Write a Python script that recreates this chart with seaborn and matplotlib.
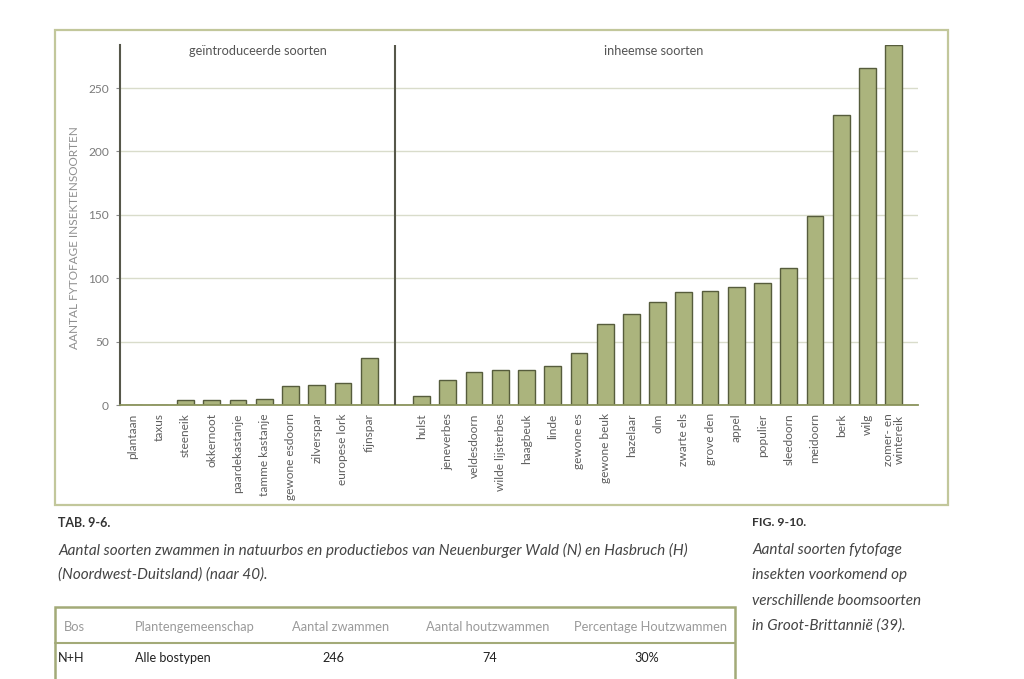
import matplotlib
matplotlib.use("Agg")
import matplotlib.pyplot as plt
import seaborn as sns
import pandas as pd
import numpy as np
from matplotlib.patches import Rectangle
from matplotlib.lines import Line2D

# ---------------- data ----------------
introduced = ["plantaan", "taxus", "steeneik", "okkernoot", "paardekastanje",
              "tamme kastanje", "gewone esdoorn", "zilverspar", "europese lork", "fijnspar"]
introduced_vals = [0, 0, 4, 4, 4, 5, 15, 16, 17, 37]

native = ["hulst", "jeneverbes", "veldesdoorn", "wilde lijsterbes", "haagbeuk", "linde",
          "gewone es", "gewone beuk", "hazelaar", "olm", "zwarte els", "grove den", "appel",
          "populier", "sleedoorn", "meidoorn", "berk", "wilg", "zomer- en\nwintereik"]
native_vals = [7, 20, 26, 28, 28, 31, 41, 64, 72, 81, 89, 90, 93, 96, 108, 149, 229, 266, 284]

yticks = [0, 50, 100, 150, 200, 250]
group_labels = ["geïntroduceerde soorten", "inheemse soorten"]
ylabel = "AANTAL FYTOFAGE INSEKTENSOORTEN"

tab_title = "TAB. 9-6."
tab_caption = ["Aantal soorten zwammen in natuurbos en productiebos van Neuenburger Wald (N) en Hasbruch (H)",
               "(Noordwest-Duitsland) (naar 40)."]
fig_title = "FIG. 9-10."
fig_caption = ["Aantal soorten fytofage", "insekten voorkomend op",
               "verschillende boomsoorten", "in Groot-Brittannië (39)."]
table_header = ["Bos", "Plantengemeenschap", "Aantal zwammen", "Aantal houtzwammen", "Percentage Houtzwammen"]
table_row = ["N+H", "Alle bostypen", "246", "74", "30%"]

# ---------------- style ----------------
sns.set_style("white")
plt.rcParams['font.family'] = ['Lato', 'DejaVu Sans']

GAP = " "
df = pd.DataFrame({"soort": introduced + native, "aantal": introduced_vals + native_vals})
order = introduced + [GAP] + native

W, H = 1024, 679
fig = plt.figure(figsize=(W / 100, H / 100), dpi=100)
fig.patch.set_facecolor("white")

def fx(x):
    return x / W

def fy(y):
    return 1 - y / H

ax = fig.add_axes([fx(120), fy(405), fx(918) - fx(120), fy(45) - fy(405)])

fill = "#abb47d"
edge = "#565c3c"
sns.barplot(data=df, x="soort", y="aantal", order=order, color=fill, saturation=1,
            edgecolor=edge, linewidth=1.0, width=0.64, errorbar=None, ax=ax)

ax.set_xlim(-0.42, 29.93)
ax.set_ylim(0, 284)
ax.set_xlabel("")
ax.set_ylabel("")

labels = introduced + [""] + native
ax.set_xticks(range(len(order)))
ax.set_xticklabels(labels, rotation=90, fontsize=8.6, color="#5e5e5e", linespacing=1.0)
ax.tick_params(axis="x", which="major", length=0, pad=6)
ax.set_xticks(np.arange(-0.5, len(order), 1), minor=True)
ax.tick_params(axis="x", which="minor", length=4, direction="inout", color="#7d8650", width=0.9)

ax.set_yticks(yticks)
ax.set_yticklabels([str(t) for t in yticks], fontsize=8.6, color="#7a7a7a")
ax.tick_params(axis="y", length=3, width=0.8, color="#8a8a8a", pad=5, left=True)

ax.set_axisbelow(True)
ax.yaxis.grid(True, color="#d9dccb", lw=1.0)
ax.xaxis.grid(False)

for s in ["top", "right"]:
    ax.spines[s].set_visible(False)
ax.spines["left"].set_color("#56574a")
ax.spines["left"].set_linewidth(1.5)
ax.spines["bottom"].set_color("#8a935c")
ax.spines["bottom"].set_linewidth(1.3)

ax.axvline(order.index(GAP), color="#56574a", lw=1.5, zorder=3)

# group labels
fig.text(fx(257.5), fy(51), group_labels[0], ha="center", va="center", fontsize=9.2, color="#555555")
fig.text(fx(654), fy(51), group_labels[1], ha="center", va="center", fontsize=9.2, color="#555555")

# y label
fig.text(fx(75), fy(238), ylabel, rotation=90, ha="center", va="center",
         fontsize=8.5, color="#8f8f8f")

# frame around figure
fig.add_artist(Rectangle((fx(55), fy(505)), fx(948) - fx(55), fy(30) - fy(505),
                         transform=fig.transFigure, fill=False, ec="#c2c79b", lw=1.6))

# captions
fig.text(fx(58), fy(523), tab_title, ha="left", va="center", fontsize=9,
         fontweight="bold", color="#333333")
for i, line in enumerate(tab_caption):
    fig.text(fx(58), fy(550 + 25 * i), line, ha="left", va="center", fontsize=11,
             style="italic", color="#444444")
fig.text(fx(752), fy(523), fig_title, ha="left", va="center", fontsize=8.8,
         fontweight="bold", color="#333333")
for i, line in enumerate(fig_caption):
    fig.text(fx(752), fy(550 + 25.3 * i), line, ha="left", va="center", fontsize=11,
             style="italic", color="#444444")

# table (partial)
fig.add_artist(Rectangle((fx(55), fy(720)), fx(735) - fx(55), fy(607) - fy(720),
                         transform=fig.transFigure, fill=False, ec="#a3aa78", lw=1.8))
fig.add_artist(Line2D([fx(55), fx(735)], [fy(643), fy(643)], transform=fig.transFigure,
                      color="#a3aa78", lw=1.5))
hx = [(64, "left"), (135, "left"), (341, "center"), (488, "center"), (650, "center")]
for (x, ha), t in zip(hx, table_header):
    fig.text(fx(x), fy(627), t, ha=ha, va="center", fontsize=9.3, color="#9a9a9a")
rx = [(58, "left"), (135, "left"), (333, "center"), (490, "center"), (647, "center")]
for (x, ha), t in zip(rx, table_row):
    fig.text(fx(x), fy(658), t, ha=ha, va="center", fontsize=9.1, color="#222222")

fig.savefig("out.png", dpi=100, facecolor="white")
